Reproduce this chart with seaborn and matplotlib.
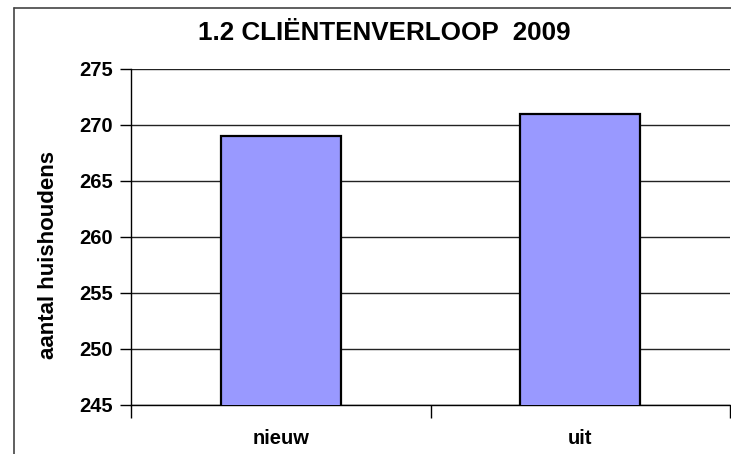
import matplotlib
matplotlib.use('Agg')
import matplotlib.pyplot as plt
from matplotlib.lines import Line2D
import seaborn as sns
import pandas as pd

# Chart data
categories = ['nieuw', 'uit']
households = [269, 271]
y_ticks = [245, 250, 255, 260, 265, 270, 275]

title = '1.2 CLIËNTENVERLOOP  2009'
y_label = 'aantal huishoudens'

sns.set_style('white')
plt.rcParams['font.family'] = ['Liberation Sans', 'DejaVu Sans']
plt.rcParams['font.weight'] = 'bold'
plt.rcParams['text.color'] = 'black'
plt.rcParams['axes.labelcolor'] = 'black'
plt.rcParams['xtick.color'] = 'black'
plt.rcParams['ytick.color'] = 'black'

df = pd.DataFrame({'category': categories, 'value': households})

fig = plt.figure(figsize=(7.31, 4.54), dpi=100)
ax = fig.add_axes([131 / 731, 49 / 454, 599 / 731, 336 / 454])

sns.barplot(data=df, x='category', y='value', color='#9999FF', saturation=1,
            width=0.4, edgecolor='black', linewidth=1.6, ax=ax, zorder=3)

ax.set_ylim(y_ticks[0], y_ticks[-1])
ax.set_xlim(-0.5, len(categories) - 0.5)
ax.set_yticks(y_ticks)
ax.yaxis.grid(True, color='#222222', linewidth=1.0, zorder=0)
ax.set_axisbelow(True)

# spines: only left and bottom like the Excel chart
for side in ['top', 'right']:
    ax.spines[side].set_visible(False)
for side in ['left', 'bottom']:
    ax.spines[side].set_color('black')
    ax.spines[side].set_linewidth(1.0)

ax.tick_params(axis='y', which='major', left=True, length=8, width=1.0,
               color='black', labelsize=14.5, pad=5)
ax.tick_params(axis='x', which='major', bottom=False, length=0, labelsize=14.5, pad=17)
ax.set_xticks([i - 0.5 for i in range(len(categories) + 1)], minor=True)
ax.tick_params(axis='x', which='minor', bottom=True, length=9, width=1.0, color='black')

for lab in ax.get_xticklabels() + ax.get_yticklabels():
    lab.set_fontweight('bold')

ax.set_xlabel('')
ax.set_ylabel(y_label, fontsize=16, fontweight='bold')
ax.yaxis.set_label_coords(-0.121, 0.446)

fig.text(0.526, 1 - 33 / 454, title, ha='center', va='center',
         fontsize=18.7, fontweight='bold')

# chart area border (left and top visible in the crop)
fig.add_artist(Line2D([14 / 731, 14 / 731], [0, 1 - 8 / 454], color='#444444',
                      linewidth=1.2, transform=fig.transFigure))
fig.add_artist(Line2D([14 / 731, 1], [1 - 8 / 454, 1 - 8 / 454], color='#444444',
                      linewidth=1.2, transform=fig.transFigure))

fig.savefig('out.png', dpi=100)
